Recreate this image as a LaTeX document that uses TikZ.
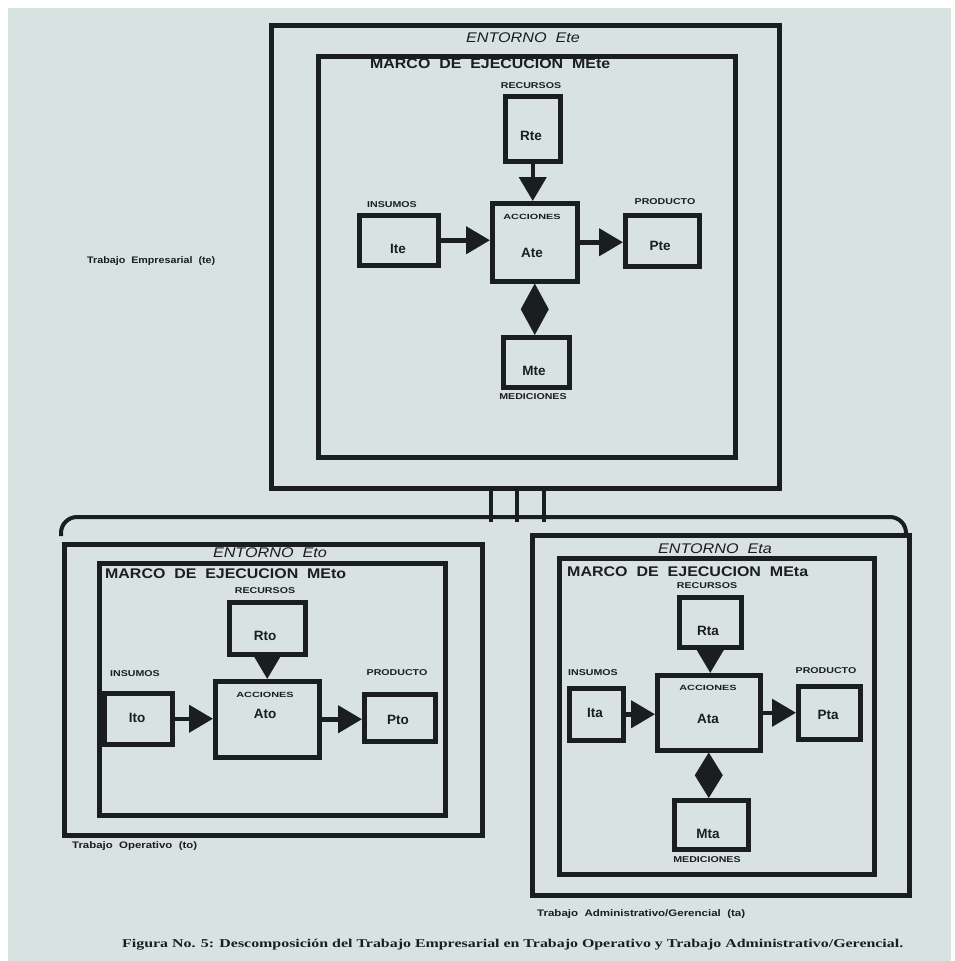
\documentclass[tikz,border=0pt]{standalone}
\usepackage{fontspec}
\usepackage{graphicx}
\setmainfont{Liberation Serif}
\setsansfont{Liberation Sans}
\usetikzlibrary{arrows.meta,calc}

\definecolor{paper}{HTML}{D8E3E1}
\definecolor{ink}{HTML}{1B1E1E}

% stretch a text horizontally to a given width, keeping its height
\newcommand{\fitw}[2]{\resizebox{#1}{\height}{#2}}
\newcommand{\wide}[2]{\scalebox{#1}[1]{#2}}
% solid diamond joining the bottom of one box to the top of another
\newcommand{\measurelink}[2]{%
  \fill[ink] (#1.south) -- ($(#1.south)!0.5!(#1.south |- #2.north)+(14,0)$)
    -- (#1.south |- #2.north) -- ($(#1.south)!0.5!(#1.south |- #2.north)+(-14,0)$) -- cycle;}

\begin{document}
\begin{tikzpicture}[x=1pt,y=-1pt,
  boxframe/.style={draw=ink,line width=4.5pt,rectangle,inner sep=0pt,anchor=north west},
  unitbox/.style={draw=ink,line width=4.5pt,rectangle,inner sep=0pt,anchor=north west},
  flowarrow/.style={draw=ink,line width=4.5pt,-{Triangle[length=24pt,width=27pt]}},
  barline/.style={draw=ink,line width=4pt},
  envtitle/.style={text=ink,inner sep=0pt,anchor=base,font=\sffamily\itshape\fontsize{14}{14}\selectfont},
  marcotitle/.style={text=ink,inner sep=0pt,anchor=base west,font=\sffamily\bfseries\fontsize{14}{14}\selectfont},
  tagtext/.style={text=ink,inner sep=0pt,anchor=base,font=\sffamily\bfseries\fontsize{8.5}{8.5}\selectfont},
  acctext/.style={text=ink,inner sep=0pt,anchor=base,font=\sffamily\bfseries\fontsize{7.5}{7.5}\selectfont},
  idtext/.style={text=ink,inner sep=0pt,anchor=base,font=\sffamily\bfseries\fontsize{13.5}{13.5}\selectfont},
  kindtext/.style={text=ink,inner sep=0pt,anchor=base west,font=\sffamily\bfseries\fontsize{9.5}{9.5}\selectfont},
  captiontext/.style={text=ink,inner sep=0pt,anchor=base west,font=\rmfamily\bfseries\fontsize{12}{12}\selectfont}
]
% paper
\fill[white] (0,0) rectangle (954,961);
\fill[paper] (8,8) rectangle (951,961);
\useasboundingbox (0,0) rectangle (954,961);

% ---------------- Trabajo Empresarial (te) ----------------
\node[boxframe,minimum width=508pt,minimum height=463pt] (Ete) at (269,23) {};
\node[boxframe,minimum width=417pt,minimum height=401pt] (MEte) at (316,54) {};
\node[envtitle] (tEte) at (523,42) {\fitw{114pt}{ENTORNO\ \ Ete}};
\node[marcotitle] (tMEte) at (370,68) {\fitw{240pt}{MARCO\ \ DE\ \ EJECUCION\ \ MEte}};
\node[kindtext] (kte) at (87,263.5) {\fitw{128pt}{Trabajo\ \ Empresarial\ \ (te)}};

\node[unitbox,minimum width=55pt,minimum height=65pt] (Rte) at (503,94) {};
\node[unitbox,minimum width=85pt,minimum height=78pt] (Ate) at (490,201) {};
\node[unitbox,minimum width=79pt,minimum height=50pt] (Ite) at (357,213) {};
\node[unitbox,minimum width=74pt,minimum height=51pt] (Pte) at (623,213) {};
\node[unitbox,minimum width=66pt,minimum height=50pt] (Mte) at (501,335) {};

\node[tagtext] (rte) at (531,88) {\wide{1.25}{RECURSOS}};
\node[tagtext] (ite) at (392,207) {\wide{1.25}{INSUMOS}};
\node[tagtext] (pte) at (665,204) {\wide{1.25}{PRODUCTO}};
\node[tagtext] (mte) at (533,399) {\wide{1.25}{MEDICIONES}};
\node[acctext] (ate) at (532,219.5) {\wide{1.45}{ACCIONES}};
\node[idtext] (nRte) at (531,140) {Rte};
\node[idtext] (nIte) at (398,253) {Ite};
\node[idtext] (nAte) at (532,257) {Ate};
\node[idtext] (nPte) at (660,250) {Pte};
\node[idtext] (nMte) at (534,375) {Mte};

\draw[flowarrow] (Rte) -- (Rte |- Ate.north);
\draw[flowarrow] (Ite) -- (Ite -| Ate.west);
\draw[flowarrow] (Ate) -- (Ate -| Pte.west);
\measurelink{Ate}{Mte}

% ---------------- link between levels ----------------
\coordinate (bl) at (61,536);
\coordinate (br) at (906,532);
\draw[barline] ($(Ete.south west)+(222,0)$) -- ++(0,31);
\draw[barline] ($(Ete.south west)+(248,0)$) -- ++(0,31);
\draw[barline] ($(Ete.south west)+(275,0)$) -- ++(0,31);
\draw[barline,rounded corners=16pt] (bl) -- (bl |- 0,517) -- (br |- 0,517) -- (br);

% ---------------- Trabajo Operativo (to) ----------------
\node[boxframe,minimum width=418pt,minimum height=291pt] (Eto) at (62,542) {};
\node[boxframe,minimum width=346pt,minimum height=252pt] (MEto) at (97,561) {};
\node[envtitle] (tEto) at (270,557) {\fitw{114pt}{ENTORNO\ \ Eto}};
\node[marcotitle] (tMEto) at (105,578) {\fitw{241pt}{MARCO\ \ DE\ \ EJECUCION\ \ MEto}};
\node[kindtext] (kto) at (72,848.5) {\fitw{125pt}{Trabajo\ \ Operativo\ \ (to)}};

\node[unitbox,minimum width=76pt,minimum height=52pt] (Rto) at (227,600) {};
\node[unitbox,minimum width=104pt,minimum height=76pt] (Ato) at (213,679) {};
\node[unitbox,minimum width=68pt,minimum height=51pt] (Ito) at (102,691) {};
\node[unitbox,minimum width=71pt,minimum height=47pt] (Pto) at (362,692) {};

\node[tagtext] (rto) at (265,593) {\wide{1.25}{RECURSOS}};
\node[tagtext] (ito) at (135,676) {\wide{1.25}{INSUMOS}};
\node[tagtext] (pto) at (397,675) {\wide{1.25}{PRODUCTO}};
\node[acctext] (ato) at (265,697.5) {\wide{1.45}{ACCIONES}};
\node[idtext] (nRto) at (265,640) {Rto};
\node[idtext] (nIto) at (137,722) {Ito};
\node[idtext] (nAto) at (265,718) {Ato};
\node[idtext] (nPto) at (398,724) {Pto};

\draw[flowarrow] (Rto) -- (Rto |- Ato.north);
\draw[flowarrow] (Ito) -- (Ito -| Ato.west);
\draw[flowarrow] (Ato) -- (Ato -| Pto.west);

% ---------------- Trabajo Administrativo/Gerencial (ta) ----------------
\node[boxframe,minimum width=377pt,minimum height=360pt] (Eta) at (530,533) {};
\node[boxframe,minimum width=315pt,minimum height=316pt] (MEta) at (557,556) {};
\node[envtitle] (tEta) at (715,553) {\fitw{114pt}{ENTORNO\ \ Eta}};
\node[marcotitle] (tMEta) at (567,576) {\fitw{241pt}{MARCO\ \ DE\ \ EJECUCION\ \ MEta}};
\node[kindtext] (kta) at (537,916.5) {\fitw{208pt}{Trabajo\ \ Administrativo/Gerencial\ \ (ta)}};

\node[unitbox,minimum width=62pt,minimum height=50pt] (Rta) at (677,595) {};
\node[unitbox,minimum width=103pt,minimum height=75pt] (Ata) at (655,673) {};
\node[unitbox,minimum width=54pt,minimum height=52pt] (Ita) at (567,686) {};
\node[unitbox,minimum width=62pt,minimum height=53pt] (Pta) at (796,684) {};
\node[unitbox,minimum width=74pt,minimum height=49pt] (Mta) at (672,798) {};

\node[tagtext] (rta) at (707,588) {\wide{1.25}{RECURSOS}};
\node[tagtext] (ita) at (593,675) {\wide{1.25}{INSUMOS}};
\node[tagtext] (pta) at (826,673) {\wide{1.25}{PRODUCTO}};
\node[tagtext] (mta) at (707,862) {\wide{1.25}{MEDICIONES}};
\node[acctext] (ata) at (708,690.5) {\wide{1.45}{ACCIONES}};
\node[idtext] (nRta) at (708,635) {Rta};
\node[idtext] (nIta) at (595,717) {Ita};
\node[idtext] (nAta) at (708,723) {Ata};
\node[idtext] (nPta) at (828,719) {Pta};
\node[idtext] (nMta) at (708,838) {Mta};

\draw[flowarrow] (Rta) -- (Rta |- Ata.north);
\draw[flowarrow] (Ita) -- (Ita -| Ata.west);
\draw[flowarrow] (Ata) -- (Ata -| Pta.west);
\measurelink{Ata}{Mta}

% ---------------- caption ----------------
\node[captiontext] (cap) at (122,947) {\fitw{781pt}{Figura No. 5: Descomposición del Trabajo Empresarial en Trabajo Operativo y Trabajo Administrativo/Gerencial.}};
\end{tikzpicture}
\end{document}
